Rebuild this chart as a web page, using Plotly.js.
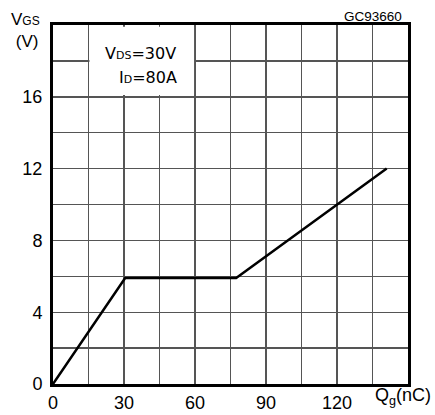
<!DOCTYPE html>
<html><head><meta charset="utf-8">
<script src="https://cdn.plot.ly/plotly-3.0.1.min.js"></script>
<style>html,body{margin:0;padding:0;background:#fff}#chart{width:435px;height:415px}</style>
</head><body><div id="chart"></div>
<script>
// Gate charge curve
const qg = [0, 30.5, 77.4, 120, 141];      // nC
const vgs = [0, 5.9, 5.9, 10, 12];         // V
const xTickVals = [0, 30, 60, 90, 120, 150];
const xTickText = ["0", "30", "60", "90", "120", ""];
const yTickVals = [0, 4, 8, 12, 16, 20];
const yTickText = ["0", "4", "8", "12", "16", ""];

const font = "Liberation Sans, Arial, sans-serif";
const gridCol = '#555555';
const trace = {x: qg, y: vgs, type: 'scatter', mode: 'lines',
  line: {color: '#000', width: 2.5}, hoverinfo: 'skip'};

const sm = (t, px) => '<span style="font-size:' + px + 'px">' + t + '</span>';

const layout = {
  width: 435, height: 415,
  margin: {l: 53, r: 26.5, t: 24.5, b: 30.5},
  paper_bgcolor: '#fff', plot_bgcolor: '#fff',
  showlegend: false,
  font: {family: font, color: '#000', size: 16},
  xaxis: {range: [0,150], tickmode: 'array', tickvals: xTickVals, ticktext: xTickText,
    showgrid: true, gridcolor: gridCol, gridwidth: 1.4, zeroline: false,
    minor: {dtick: 15, tick0: 0, showgrid: true, gridcolor: gridCol, gridwidth: 1.4, ticks: ''},
    showline: true, mirror: true, linecolor: '#000', linewidth: 3, ticks: '',
    tickfont: {size: 18, family: font}, fixedrange: true},
  yaxis: {range: [0,20], tickmode: 'array', tickvals: yTickVals, ticktext: yTickText,
    showgrid: true, gridcolor: gridCol, gridwidth: 1.4, zeroline: false,
    minor: {dtick: 2, tick0: 0, showgrid: true, gridcolor: gridCol, gridwidth: 1.4, ticks: ''},
    showline: true, mirror: true, linecolor: '#000', linewidth: 3, ticks: '',
    ticklabelstandoff: 4,
    tickfont: {size: 18, family: font}, fixedrange: true},
  shapes: [{type: 'rect', xref: 'x', yref: 'y', x0: 15.4, x1: 59.6, y0: 16.1, y1: 19.9,
    fillcolor: '#fff', line: {width: 0}, layer: 'between'}],
  annotations: [
    {xref: 'paper', yref: 'paper', x: -0.121, y: 0.984, xanchor: 'left', yanchor: 'middle',
     align: 'left', text: 'V' + sm('GS', 12) + '<br> (V)', showarrow: false,
     font: {size: 17}, borderpad: 0},
    {xref: 'paper', yref: 'paper', x: 0.988, y: 1.024, xanchor: 'right', yanchor: 'middle',
     text: 'GC93660', showarrow: false, font: {size: 13.5}},
    {xref: 'paper', yref: 'paper', x: 1.07, y: -0.035, xanchor: 'right', yanchor: 'middle',
     text: 'Q<sub>g</sub>(nC)', showarrow: false, font: {size: 18}},
    {xref: 'x', yref: 'y', x: 21, y: 18.42, xanchor: 'left', yanchor: 'middle',
     text: 'V' + sm('DS', 11) + '=30V', showarrow: false, font: {size: 16, family: 'DejaVu Sans'}},
    {xref: 'x', yref: 'y', x: 27.2, y: 17.1, xanchor: 'left', yanchor: 'middle',
     text: 'I' + sm('D', 11) + '=80A', showarrow: false, font: {size: 16, family: 'DejaVu Sans'}}
  ]
};
Plotly.newPlot('chart', [trace], layout, {staticPlot: true, displayModeBar: false});
</script></body></html>
